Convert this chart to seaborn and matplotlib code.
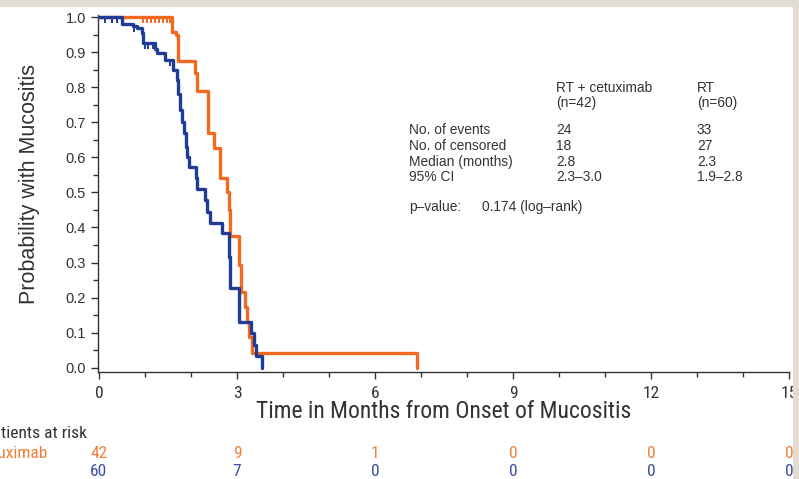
import matplotlib
matplotlib.use("Agg")
import matplotlib.pyplot as plt
from matplotlib import font_manager as fm
from matplotlib.path import Path
from matplotlib.patches import Rectangle
from matplotlib.ticker import MultipleLocator, FormatStrFormatter
from matplotlib.transforms import blended_transform_factory
import pandas as pd
import seaborn as sns

# Kaplan-Meier step curves (months, probability with mucositis)
cetux_time = [0, 1.59, 1.67, 1.72, 2.09, 2.13, 2.37, 2.50, 2.63, 2.78, 2.82, 2.84,
              3.04, 3.09, 3.17, 3.22, 3.27, 3.33, 6.91]
cetux_surv = [1.0, 0.957, 0.949, 0.875, 0.84, 0.79, 0.67, 0.627, 0.54, 0.50, 0.45, 0.376,
              0.293, 0.215, 0.174, 0.13, 0.087, 0.043, 0.0]
rt_time = [0, 0.50, 0.74, 0.83, 0.93, 0.96, 1.22, 1.26, 1.44, 1.61, 1.70, 1.72, 1.76,
           1.80, 1.85, 1.89, 1.92, 1.95, 2.10, 2.13, 2.30, 2.35, 2.41, 2.68, 2.83,
           2.85, 3.04, 3.30, 3.37, 3.41, 3.54]
rt_surv = [1.0, 0.98, 0.975, 0.97, 0.955, 0.925, 0.91, 0.897, 0.877, 0.85, 0.82, 0.78,
           0.735, 0.70, 0.67, 0.63, 0.60, 0.573, 0.54, 0.51, 0.478, 0.444, 0.413,
           0.385, 0.316, 0.228, 0.131, 0.098, 0.066, 0.033, 0.0]

# censoring marks
cetux_cens_time = [0.96, 1.04, 1.13, 1.22, 1.30, 1.39, 1.48, 1.54]
cetux_cens_surv = [1.0, 1.0, 1.0, 1.0, 1.0, 1.0, 1.0, 1.0]
rt_cens_time = [0.13, 0.28, 0.39, 0.76, 1.00, 1.07, 1.17, 1.55]
rt_cens_surv = [1.0, 1.0, 1.0, 0.975, 0.925, 0.925, 0.925, 0.877]

# patients at risk
risk_times = [0, 3, 6, 9, 12, 15]
cetux_at_risk = [42, 9, 1, 0, 0, 0]
rt_at_risk = [60, 7, 0, 0, 0, 0]

group_names = ["RT + cetuximab", "RT"]
group_n = ["(n=42)", "(n=60)"]
stat_rows = ["No. of events", "No. of censored", "Median (months)", "95% CI"]
cetux_stats = ["24", "18", "2.8", "2.3\u20133.0"]
rt_stats = ["33", "27", "2.3", "1.9\u20132.8"]
p_label = "p\u2013value:"
p_text = "0.174 (log\u2013rank)"

ORANGE = "#F26A1F"
BLUE = "#203C96"
ORANGE_TXT = "#F07F3A"
BLUE_TXT = "#3D4FA3"
INK = "#333333"
FRAME = "#E2DCD4"


def pick(families, default):
    for f in families:
        try:
            fm.findfont(fm.FontProperties(family=f), fallback_to_default=False)
            return f
        except Exception:
            pass
    return default


sns.set_style("ticks")
plt.rcParams["font.family"] = ["Liberation Sans", "DejaVu Sans"]
NARROW = pick(["Liberation Sans Narrow", "Roboto Condensed", "Open Sans Condensed"],
              "Liberation Sans")

W, H = 799, 479
fig = plt.figure(figsize=(W / 100, H / 100), dpi=100)
fig.patch.set_facecolor("white")
ax = fig.add_axes([97.6 / W, 1 - 372 / H, 691.4 / W, (372 - 15.3) / H])

cetux_df = pd.DataFrame({"t": cetux_time, "s": cetux_surv})
rt_df = pd.DataFrame({"t": rt_time, "s": rt_surv})

sns.lineplot(data=cetux_df, x="t", y="s", drawstyle="steps-post", color=ORANGE,
             lw=2.4, estimator=None, sort=False, ax=ax, clip_on=False, zorder=3)
sns.lineplot(data=rt_df, x="t", y="s", drawstyle="steps-post", color=BLUE,
             lw=2.4, estimator=None, sort=False, ax=ax, clip_on=False, zorder=4)

tick_marker = Path([(0, 0), (0, -1)])
sns.scatterplot(x=cetux_cens_time, y=cetux_cens_surv, marker=tick_marker, s=70,
                color=ORANGE, edgecolor=ORANGE, linewidth=1.4, ax=ax,
                clip_on=False, zorder=3)
sns.scatterplot(x=rt_cens_time, y=rt_cens_surv, marker=tick_marker, s=70,
                color=BLUE, edgecolor=BLUE, linewidth=1.4, ax=ax,
                clip_on=False, zorder=4)

ax.set_xlim(-0.03, 15)
ax.set_ylim(-0.012, 1.005)
ax.set_xticks(risk_times)
ax.xaxis.set_minor_locator(MultipleLocator(1))
ax.yaxis.set_major_locator(MultipleLocator(0.1))
ax.yaxis.set_minor_locator(MultipleLocator(0.05))
ax.yaxis.set_major_formatter(FormatStrFormatter("%.1f"))
sns.despine(ax=ax)
for side in ("left", "bottom"):
    ax.spines[side].set_color(INK)
    ax.spines[side].set_linewidth(1.0)
ax.tick_params(which="major", direction="out", length=5, width=1.0, color=INK,
               labelcolor=INK, labelsize=10.5)
ax.tick_params(which="minor", direction="out", length=3.5, width=1.0, color=INK)
ax.tick_params(axis="x", pad=5)
for lab in ax.get_xticklabels():
    lab.set_family(NARROW)
    lab.set_fontsize(12.5)

ax.set_xlabel("")
ax.set_ylabel("")
fig.text((99 + 345) / W, 1 - 411 / H, "Time in Months from Onset of Mucositis",
         ha="center", va="center", fontsize=17, family=NARROW, color=INK)
fig.text(30 / W, 1 - 184 / H, "Probability with Mucositis", rotation=90,
         ha="center", va="center", fontsize=15.5, color=INK)

# summary statistics block
tfs = 9.9
fig.text(556 / W, 1 - 88 / H, group_names[0], fontsize=tfs, color=INK, va="center")
fig.text(556 / W, 1 - 103 / H, group_n[0], fontsize=tfs, color=INK, va="center")
fig.text(697 / W, 1 - 88 / H, group_names[1], fontsize=tfs, color=INK, va="center")
fig.text(697 / W, 1 - 103 / H, group_n[1], fontsize=tfs, color=INK, va="center")
for i, (row, a, b) in enumerate(zip(stat_rows, cetux_stats, rt_stats)):
    y = 1 - (130 + 15.8 * i) / H
    fig.text(409 / W, y, row, fontsize=tfs, color=INK, va="center")
    fig.text(556 / W, y, a, fontsize=tfs, color=INK, va="center")
    fig.text(697 / W, y, b, fontsize=tfs, color=INK, va="center")
fig.text(409 / W, 1 - 207 / H, p_label, fontsize=tfs, color=INK, va="center")
fig.text(482 / W, 1 - 207 / H, p_text, fontsize=tfs, color=INK, va="center")

# patients-at-risk table
rfs = 12.5
risk_tr = blended_transform_factory(ax.transData, fig.transFigure)
fig.text(87 / W, 1 - 434 / H, "Patients at risk", ha="right", va="center",
         fontsize=rfs, family=NARROW, color=INK)
lab_c = fig.text(47 / W, 1 - 453 / H, group_names[0], ha="right", va="center",
                 fontsize=rfs, family=NARROW, color=ORANGE_TXT)
fig.canvas.draw()
left_px = lab_c.get_window_extent(fig.canvas.get_renderer()).x0
fig.text(left_px / W, 1 - 471 / H, group_names[1], ha="left", va="center",
         fontsize=rfs, family=NARROW, color=BLUE_TXT)
for t, a, b in zip(risk_times, cetux_at_risk, rt_at_risk):
    ax.text(t, 1 - 453 / H, str(a), transform=risk_tr, ha="center", va="center",
            fontsize=rfs, family=NARROW, color=ORANGE_TXT, clip_on=False)
    ax.text(t, 1 - 471 / H, str(b), transform=risk_tr, ha="center", va="center",
            fontsize=rfs, family=NARROW, color=BLUE_TXT, clip_on=False)

# page margin around the panel
fig.patches.append(Rectangle((0, 1 - 7 / H), 1, 7 / H, transform=fig.transFigure,
                             facecolor=FRAME, edgecolor="none", zorder=10))
fig.patches.append(Rectangle((793 / W, 0), 6 / W, 1, transform=fig.transFigure,
                             facecolor=FRAME, edgecolor="none", zorder=10))

fig.savefig("out.png", dpi=100)
